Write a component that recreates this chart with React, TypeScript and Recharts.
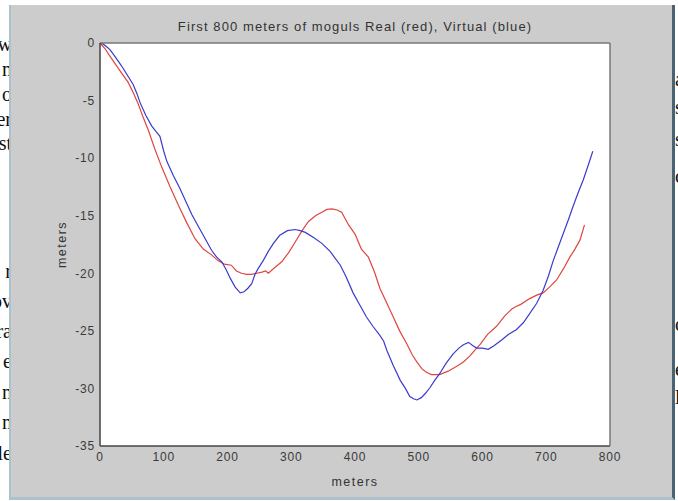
import React from 'react';
import { LineChart, Line, XAxis, YAxis, CartesianGrid } from 'recharts';

// distance along the run (m) and elevation change (m)
const realX = [0, 8, 15, 25, 35, 44, 52, 60, 68, 76, 86, 97, 110, 123, 136, 149, 162, 175, 185, 195, 206, 214, 222, 230, 238, 246, 254, 260, 264, 272, 285, 296, 306, 317, 327, 338, 348, 356, 364, 372, 379, 390, 400, 410, 421, 430, 439, 450, 460, 470, 481, 490, 497, 505, 512, 520, 533, 546, 559, 570, 580, 589, 596, 608, 622, 635, 646, 652, 660, 674, 685, 695, 705, 716, 727, 737, 745, 753, 760];
const realY = [0, -0.5, -1.1, -1.9, -2.7, -3.4, -4.3, -5.3, -6.5, -7.6, -9.2, -10.8, -12.5, -14.1, -15.6, -17.0, -17.9, -18.4, -18.9, -19.2, -19.3, -19.8, -20.0, -20.1, -20.1, -20.0, -19.9, -19.8, -20.0, -19.6, -19.0, -18.2, -17.3, -16.3, -15.5, -15.0, -14.7, -14.45, -14.4, -14.5, -14.7, -15.8, -16.6, -17.9, -18.6, -19.8, -21.3, -22.6, -23.8, -25.0, -26.1, -27.1, -27.7, -28.3, -28.6, -28.8, -28.8, -28.5, -28.1, -27.7, -27.2, -26.6, -26.2, -25.3, -24.6, -23.7, -23.1, -22.9, -22.7, -22.2, -21.9, -21.7, -21.2, -20.6, -19.6, -18.6, -17.9, -17.1, -15.8];

const virtualX = [0, 5, 10, 16, 25, 34, 43, 52, 58, 63, 72, 81, 88, 94, 100, 105, 115, 125, 135, 144, 155, 165, 175, 183, 191, 198, 204, 212, 220, 226, 232, 238, 243, 248, 256, 264, 272, 282, 294, 306, 314, 322, 335, 348, 361, 369, 377, 386, 397, 408, 418, 428, 439, 445, 450, 460, 471, 479, 486, 492, 497, 504, 511, 518, 525, 533, 543, 554, 563, 570, 578, 585, 591, 600, 609, 618, 630, 641, 653, 664, 674, 685, 695, 703, 711, 719, 727, 735, 742, 750, 758, 766, 773];
const virtualY = [0, -0.1, -0.3, -0.6, -1.3, -2.0, -2.8, -3.6, -4.4, -5.2, -6.3, -7.2, -7.7, -8.1, -9.4, -10.3, -11.5, -12.6, -13.8, -14.9, -16.0, -17.0, -18.0, -18.6, -19.0, -19.7, -20.4, -21.2, -21.7, -21.6, -21.3, -20.9, -20.1, -19.6, -18.9, -18.1, -17.4, -16.7, -16.3, -16.2, -16.3, -16.45, -16.9, -17.4, -18.1, -18.7, -19.3, -20.3, -21.7, -22.8, -23.8, -24.6, -25.4, -25.9, -26.7, -28.0, -29.3, -30.0, -30.7, -30.9, -31.0, -30.8, -30.4, -29.9, -29.3, -28.7, -27.8, -27.0, -26.5, -26.2, -26.0, -26.3, -26.5, -26.5, -26.6, -26.3, -25.8, -25.3, -24.9, -24.3, -23.5, -22.6, -21.5, -20.3, -18.9, -17.7, -16.5, -15.3, -14.2, -13.0, -11.9, -10.6, -9.4];

const xTicks = [0, 100, 200, 300, 400, 500, 600, 700, 800];
const yTicks = [-35, -30, -25, -20, -15, -10, -5, 0];

// words of the document page peeking out behind the figure window
const leftWords = ['w', 'n', 'o', 'er', 'st', 'r', 'ov', 'ra', 'e', 'n', 'n', 'le'];
const leftWordTops = [33, 58, 83, 108, 132, 260, 290, 320, 350, 381, 411, 442];
const rightWords = ['a', 's', 's', 'c', 'o', 'e', 'l'];
const rightWordTops = [68, 96, 128, 165, 313, 358, 386];

const realData = realX.map((x, i) => ({ x, y: realY[i] }));
const virtualData = virtualX.map((x, i) => ({ x, y: virtualY[i] }));

const font = '"Liberation Sans", Arial, sans-serif';
const tickStyle = { fontSize: 12, fill: '#3a3a3a', fontFamily: font, letterSpacing: 0.8 };
const labelStyle = { fontSize: 12.5, fill: '#333', fontFamily: font, letterSpacing: 1.5 };
const boxColor = '#444';

export default function App() {
  return (
    <div style={{ position: 'absolute', left: 0, top: 0, width: 678, height: 501, background: '#fff', overflow: 'hidden' }}>
      {leftWords.map((w, i) => (
        <div key={`l${i}`} style={{ position: 'absolute', right: 666, top: leftWordTops[i], fontFamily: '"Liberation Serif", serif', fontSize: 20, color: '#111', whiteSpace: 'nowrap' }}>{w}</div>
      ))}
      {rightWords.map((w, i) => (
        <div key={`r${i}`} style={{ position: 'absolute', left: 675, top: rightWordTops[i], fontFamily: '"Liberation Serif", serif', fontSize: 20, color: '#111' }}>{w}</div>
      ))}
      <div style={{ position: 'absolute', left: 9, top: 5, width: 661, height: 492, background: '#cccccc', borderLeft: '2px solid #aac2cc', borderBottom: '3px solid #aac2cc', borderRight: '3px solid #4a6372' }} />
      <div style={{ position: 'absolute', left: 0, width: 710, top: 19, textAlign: 'center', fontFamily: font, fontSize: 13, letterSpacing: 1.1, color: '#333' }}>
        First 800 meters of moguls Real (red), Virtual (blue)
      </div>
      <div style={{ position: 'absolute', left: 0, top: 0 }}>
        <LineChart width={678} height={501} margin={{ top: 43, right: 68, bottom: 13, left: 24 }}>
          <CartesianGrid horizontal={false} vertical={false} fill="#ffffff" />
          <XAxis type="number" dataKey="x" domain={[0, 800]} ticks={xTicks} height={42} tickLine={false} tickSize={4} tickMargin={2}
            axisLine={{ stroke: boxColor, strokeWidth: 1.5 }} tick={tickStyle} interval={0}
            label={{ value: 'meters', position: 'insideBottom', offset: 2, style: labelStyle }} />
          <XAxis xAxisId="bottomTicks" type="number" domain={[0, 800]} ticks={xTicks} orientation="bottom" mirror tick={false} axisLine={false} tickSize={4} tickLine={{ stroke: boxColor }} />
          <XAxis xAxisId="top" type="number" domain={[0, 800]} ticks={xTicks} orientation="top" mirror tick={false} tickSize={4}
            axisLine={{ stroke: '#777', strokeWidth: 1.5 }} tickLine={{ stroke: '#777' }} />
          <YAxis type="number" domain={[-35, 0]} ticks={yTicks} width={76} tickLine={false} tickSize={3} tickMargin={2}
            axisLine={{ stroke: boxColor, strokeWidth: 1.5 }} tick={tickStyle} interval={0}
            label={{ value: 'meters', angle: -90, position: 'center', style: labelStyle }} />
          <YAxis yAxisId="leftTicks" type="number" domain={[-35, 0]} ticks={yTicks} orientation="left" mirror tick={false} axisLine={false} tickSize={4} tickLine={{ stroke: boxColor }} />
          <YAxis yAxisId="right" type="number" domain={[-35, 0]} ticks={yTicks} orientation="right" mirror tick={false} tickSize={4}
            axisLine={{ stroke: '#777', strokeWidth: 1.5 }} tickLine={{ stroke: '#777' }} />
          <Line data={realData} dataKey="y" type="linear" stroke="#e0463f" strokeWidth={1.2} dot={false} isAnimationActive={false} />
          <Line data={virtualData} dataKey="y" type="linear" stroke="#3b3bcc" strokeWidth={1.2} dot={false} isAnimationActive={false} />
        </LineChart>
      </div>
    </div>
  );
}
